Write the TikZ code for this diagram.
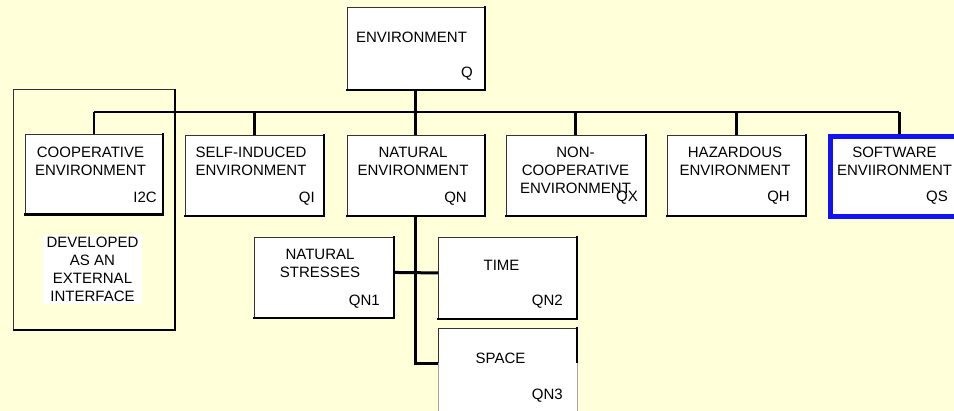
\documentclass[tikz,border=0pt]{standalone}
\usepackage{fontspec}
\setmainfont{Liberation Sans}
\begin{document}
\begin{tikzpicture}[x=1pt,y=-1pt,
  envbox/.style={draw=black!80, line width=0.9pt, fill=white, inner sep=0pt, anchor=north west},
  swbox/.style={draw=swblue, line width=4.6pt, fill=white, inner sep=0pt, anchor=north west},
  shadeedge/.style={draw=black, line width=2.6pt, line cap=rect},
  title/.style={inner sep=0pt, anchor=north, align=center,
    font=\fontsize{15}{17.7}\selectfont},
  code/.style={inner sep=0pt, anchor=base east, font=\fontsize{15}{17.7}\selectfont},
  busline/.style={draw=black, line width=2pt},
  stem/.style={draw=black, line width=3pt},
  thinstem/.style={draw=black, line width=1.2pt}]
\definecolor{bgyellow}{RGB}{255,255,218}
\definecolor{swblue}{RGB}{18,18,245}

% page and background
\clip (0,0) rectangle (954,411);
\fill[bgyellow] (0,0) rectangle (954,411);

% outer frame of the cooperative group
\node[draw=black!80, line width=0.9pt, inner sep=0pt, anchor=north west,
      minimum width=161pt, minimum height=240pt] (iface) at (13,89) {};
\draw[black, line width=2.2pt] (iface.north east) -- (iface.south east) -- (iface.south west);

% bus coordinates
\coordinate (bus) at (415,112);

% boxes
\node[envbox, minimum width=137pt, minimum height=82pt] (q) at (347,7) {};
\node[envbox, minimum width=137pt, minimum height=79pt] (coop) at (25,134.5) {};
\node[envbox, minimum width=138pt, minimum height=80pt] (self) at (185,135) {};
\node[envbox, minimum width=137pt, minimum height=80pt] (nat) at (347,135) {};
\node[envbox, minimum width=139pt, minimum height=80pt] (nonc) at (506,135) {};
\node[envbox, minimum width=138pt, minimum height=80pt] (haz) at (667,135) {};
\node[swbox, minimum width=138pt, minimum height=80pt] (soft) at (828,134.5) {};
\node[envbox, minimum width=139pt, minimum height=80pt] (stress) at (254,237) {};
\node[envbox, minimum width=138pt, minimum height=81pt] (time) at (438,237) {};
\node[envbox, minimum width=138pt, minimum height=100pt] (space) at (438,328) {};

% connectors: top level bus
\draw[stem] (q.south) -- (q.south |- bus);
\draw[busline] (coop.north |- bus) -- (soft.north |- bus);
\draw[thinstem] (coop.north) -- (coop.north |- bus);
\draw[stem] (self.north) -- (self.north |- bus);
\draw[stem] (nat.north) -- (nat.north |- bus);
\draw[stem] (nonc.north) -- (nonc.north |- bus);
\draw[stem] (haz.north) -- (haz.north |- bus);
\draw[stem] (soft.north) -- (soft.north |- bus);

% drop-shadow edges
\foreach \b in {q,coop,self,nat,nonc,haz,stress,time}
  \draw[shadeedge] (\b.north east) -- (\b.south east) -- (\b.south west);
\draw[shadeedge] (space.north east) -- ([yshift=-35pt]space.north east);

% lower part of the SPACE box, covered by a plain white panel
\fill[white] ([yshift=-35pt]space.north west) rectangle ([xshift=1.5pt]space.south east);
\draw[black!35, line width=0.8pt] ([yshift=-35pt]space.north west) -- (space.south west);
\draw[black!35, line width=0.8pt] ([yshift=-35pt,xshift=0.5pt]space.north east) -- ([xshift=0.5pt]space.south east);

% titles
\node[title] (qT) at (411.5,32.3) {ENVIRONMENT};
\node[title] (coopT) at (90.5,147.3) {COOPERATIVE\\ENVIRONMENT};
\node[title] (selfT) at (251,147.3) {SELF-INDUCED\\ENVIRONMENT};
\node[title] (natT) at (413,147.3) {NATURAL\\ENVIRONMENT};
\node[title] (noncT) at (575.5,147.3) {NON-\\COOPERATIVE\\ENVIRONMENT};
\node[title] (hazT) at (735,147.3) {HAZARDOUS\\ENVIRONMENT};
\node[title] (softT) at (894.5,147.3) {SOFTWARE\\ENVIIRONMENT};
\node[title] (stressT) at (320,249.3) {NATURAL\\STRESSES};
\node[title] (timeT) at (501.5,260.3) {TIME};
\node[title] (spaceT) at (500.5,353.3) {SPACE};
\node[title, fill=white, inner xsep=4pt, inner ysep=2.5pt] (ifaceT) at (92.5,234.8)
  {DEVELOPED\\AS AN\\EXTERNAL\\INTERFACE};

% codes
\node[code] (qC) at (473,78) {Q};
\node[code] (coopC) at (157,203) {I2C};
\node[code] (selfC) at (315,203) {QI};
\node[code] (natC) at (467,203) {QN};
\node[code] (noncC) at (638,202) {QX};
\node[code] (hazC) at (790,202) {QH};
\node[code] (softC) at (948,202) {QS};
\node[code] (stressC) at (380,306) {QN1};
\node[code] (timeC) at (563,306) {QN2};
\node[code] (spaceC) at (563,400) {QN3};

% connectors below NATURAL ENVIRONMENT
\draw[stem] (nat.south) -- (nat.south |- spaceT.base) -- (space.west |- spaceT.base);
\draw[stem] ([yshift=5pt]stress.east) -- ([yshift=5pt]time.west);
\end{tikzpicture}
\end{document}
